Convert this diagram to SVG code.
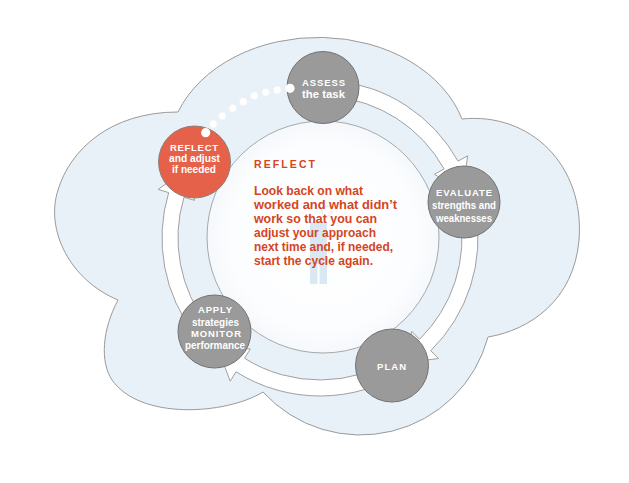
<svg xmlns="http://www.w3.org/2000/svg" width="629" height="483" viewBox="0 0 629 483">
<defs>
<radialGradient id="core" cx="50%" cy="50%" r="50%">
<stop offset="0" stop-color="#ffffff"/>
<stop offset="0.8" stop-color="#fcfdfe"/>
<stop offset="1" stop-color="#f5f8fc"/>
</radialGradient>
</defs>
<style>
.cloud{fill:#e8f0f8;stroke:#9a9a9a;stroke-width:1}
.core{fill:url(#core);stroke:#a8a8a8;stroke-width:1}
.arrow{fill:#ffffff;stroke:#a0a0a0;stroke-width:1;stroke-linejoin:miter}
.node{fill:#9a9a9a;stroke:#727272;stroke-width:1}
.active{fill:#e5614a;stroke:#8c7d78;stroke-width:1}
.lbl{font-family:"Liberation Sans Narrow","Liberation Sans",Arial,sans-serif;font-weight:bold;fill:#ffffff;text-anchor:middle}
.caps{font-size:9.5px}
.low{font-size:11.5px}
.head{font-family:"Liberation Sans",Arial,sans-serif;font-weight:bold;font-size:10.5px;fill:#d5451e}
.body{font-family:"Liberation Sans",Arial,sans-serif;font-weight:bold;font-size:12.2px;fill:#d5451e}
.fig{fill:#d9e8f3}
.dot{fill:#ffffff;stroke:#ececec;stroke-width:0.6}
</style>
<rect width="629" height="483" fill="#ffffff"/>
<path class="cloud" d="M178,112 A150,115 0 0 1 462,119 C530,112 585,165 579,240 C574,300 530,330 488,337 A132,132 0 0 1 263,392 C225,415 140,420 112,380 C100,362 102,330 118,300 C70,280 45,230 58,190 C70,150 110,112 178,112 Z"/>
<circle class="core" cx="323" cy="237" r="116"/>
<g id="figure">
<circle cx="327" cy="211" r="5" fill="none" stroke="#dde9f2" stroke-width="1"/>
<rect class="fig" x="310" y="222" width="17" height="42" rx="3"/>
<rect class="fig" x="310" y="262" width="7.5" height="22"/>
<rect class="fig" x="319.5" y="262" width="7.5" height="22"/>
</g>
<g id="description">
<text class="head" x="254" y="168" textLength="61" lengthAdjust="spacing">REFLECT</text>
<text class="body" x="254" y="195" textLength="109" lengthAdjust="spacingAndGlyphs">Look back on what</text>
<text class="body" x="254" y="209" textLength="143" lengthAdjust="spacingAndGlyphs">worked and what didn’t</text>
<text class="body" x="254" y="223" textLength="123" lengthAdjust="spacingAndGlyphs">work so that you can</text>
<text class="body" x="254" y="237" textLength="122" lengthAdjust="spacingAndGlyphs">adjust your approach</text>
<text class="body" x="254" y="251" textLength="139" lengthAdjust="spacingAndGlyphs">next time and, if needed,</text>
<text class="body" x="254" y="265" textLength="119" lengthAdjust="spacingAndGlyphs">start the cycle again.</text>
</g>
<g id="connectors">
<path class="arrow" d="M333.77,80.60 A158,158 0 0 1 458.06,161.16 L467.66,155.80 L462.58,191.40 L434.47,174.29 L444.08,168.94 A142,142 0 0 0 332.38,96.54 Z"/>
<path class="arrow" d="M475.60,210.56 A158,158 0 0 1 430.74,350.69 L438.45,358.54 L402.79,363.08 L411.82,331.43 L419.53,339.28 A142,142 0 0 0 459.84,213.34 Z"/>
<path class="arrow" d="M406.05,370.51 A158,158 0 0 1 236.04,371.84 L230.19,381.17 L217.54,347.55 L250.39,348.97 L244.54,358.29 A142,142 0 0 0 397.34,357.09 Z"/>
<path class="arrow" d="M195.49,335.27 A158,158 0 0 1 168.66,192.60 L158.17,189.43 L187.19,168.27 L194.52,200.35 L183.99,197.19 A142,142 0 0 0 208.10,325.42 Z"/>
</g>
<g id="assess">
<circle class="node" cx="323" cy="87.5" r="36"/>
<text class="lbl caps" x="323.5" y="86" textLength="43" lengthAdjust="spacing">ASSESS</text>
<text class="lbl low" x="323.5" y="97.5" textLength="43" lengthAdjust="spacingAndGlyphs">the task</text>
</g>
<g id="evaluate">
<circle class="node" cx="464" cy="202" r="36"/>
<text class="lbl caps" x="464" y="196" textLength="56" lengthAdjust="spacing">EVALUATE</text>
<text class="lbl low" x="464" y="209" textLength="64" lengthAdjust="spacingAndGlyphs">strengths and</text>
<text class="lbl low" x="464" y="221.5" textLength="56" lengthAdjust="spacingAndGlyphs">weaknesses</text>
</g>
<g id="plan">
<circle class="node" cx="392" cy="365.5" r="36.5"/>
<text class="lbl caps" x="391.5" y="370" textLength="29" lengthAdjust="spacing">PLAN</text>
</g>
<g id="apply">
<circle class="node" cx="214.5" cy="331.5" r="36.5"/>
<text class="lbl caps" x="215" y="313" textLength="34" lengthAdjust="spacing">APPLY</text>
<text class="lbl low" x="215.5" y="325.5" textLength="47" lengthAdjust="spacingAndGlyphs">strategies</text>
<text class="lbl caps" x="216" y="336.5" textLength="50" lengthAdjust="spacing">MONITOR</text>
<text class="lbl low" x="215" y="348.5" textLength="60" lengthAdjust="spacingAndGlyphs">performance</text>
</g>
<g id="reflect">
<circle class="active" cx="194.5" cy="162" r="36"/>
<text class="lbl caps" x="194" y="151" textLength="48" lengthAdjust="spacing">REFLECT</text>
<text class="lbl low" x="194.5" y="162" textLength="51" lengthAdjust="spacingAndGlyphs">and adjust</text>
<text class="lbl low" x="194" y="173" textLength="44" lengthAdjust="spacingAndGlyphs">if needed</text>
</g>
<g id="dotted-return">
<circle cx="205.7" cy="132.7" r="4.6" fill="#ffffff"/>
<circle class="dot" cx="213.3" cy="124" r="4"/>
<circle class="dot" cx="222.3" cy="116" r="4"/>
<circle class="dot" cx="232.7" cy="108.3" r="4"/>
<circle class="dot" cx="243.3" cy="101.7" r="4"/>
<circle class="dot" cx="254.3" cy="95.7" r="4"/>
<circle class="dot" cx="265.7" cy="92.3" r="4"/>
<circle class="dot" cx="277.3" cy="90" r="4"/>
<circle cx="290" cy="88.3" r="4.6" fill="#ffffff"/>
</g>
</svg>
